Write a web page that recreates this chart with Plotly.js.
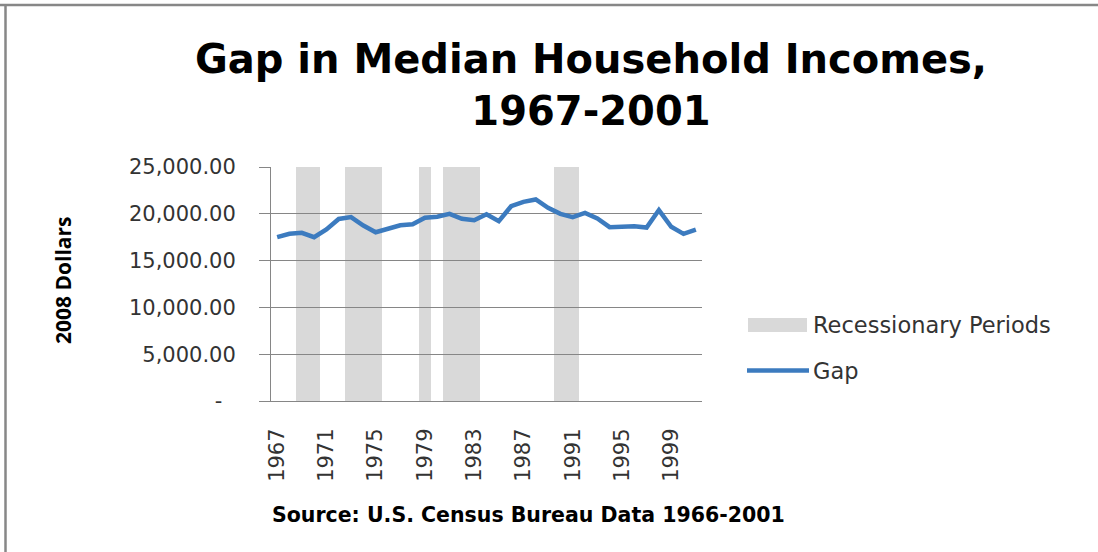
<!DOCTYPE html>
<html>
<head>
<meta charset="utf-8">
<script src="https://cdn.plot.ly/plotly-3.0.1.min.js"></script>
<style>
  html, body { margin: 0; padding: 0; background: #fff; }
  #chart { width: 1098px; height: 552px; }
</style>
</head>
<body>
<div id="chart"></div>
<script>
// ---- data ----
const years = [1967, 1968, 1969, 1970, 1971, 1972, 1973, 1974, 1975, 1976,
               1977, 1978, 1979, 1980, 1981, 1982, 1983, 1984, 1985, 1986,
               1987, 1988, 1989, 1990, 1991, 1992, 1993, 1994, 1995, 1996,
               1997, 1998, 1999, 2000, 2001];
const gap = [17500, 17860, 17970, 17500, 18320, 19450, 19650, 18750, 18030, 18430,
             18780, 18890, 19570, 19680, 20000, 19460, 19320, 19950, 19210, 20810,
             21280, 21530, 20640, 20000, 19640, 20100, 19500, 18570, 18680, 18680,
             18530, 20400, 18610, 17860, 18320];
const recessionYears = [1969, 1970, 1973, 1974, 1975, 1979, 1981, 1982, 1983, 1990, 1991];
const recessionLevel = 25000;
const yTickValues = [0, 5000, 10000, 15000, 20000, 25000];
const yTickLabels = ["-\u00a0\u00a0", "5,000.00", "10,000.00", "15,000.00", "20,000.00", "25,000.00"];
const titleText = "Gap in Median Household Incomes,<br>1967-2001";
const yTitleText = "2008 Dollars";
const sourceText = "Source: U.S. Census Bureau Data 1966-2001";
const legendNames = ["Recessionary Periods", "Gap"];

const recessionValues = years.map(y => recessionYears.includes(y) ? recessionLevel : null);

// ---- geometry helpers (pixel -> paper) ----
const W = 1098, H = 552;
const L = 271, R = 702, T = 167, B = 401;
const px = x => (x - L) / (R - L);
const py = y => (B - y) / (B - T);

const BLUE = "#3c7bbf";
const GRID = "#868686";
const TICKFONT = { family: "DejaVu Sans", size: 21, color: "#333333" };

const traces = [
  {
    type: "bar",
    name: legendNames[0],
    x: years,
    y: recessionValues,
    width: 1,
    marker: { color: GRID, opacity: 0.314, line: { width: 0 } },
    showlegend: false,
    hoverinfo: "skip"
  },
  {
    type: "scatter",
    mode: "lines",
    name: legendNames[1],
    x: years,
    y: gap,
    line: { color: BLUE, width: 4.5 },
    showlegend: false
  }
];

const layout = {
  width: W, height: H,
  margin: { l: L, r: W - R, t: T, b: H - B, pad: 0 },
  paper_bgcolor: "#ffffff",
  plot_bgcolor: "#ffffff",
  bargap: 0,
  showlegend: false,
  title: {
    text: titleText,
    font: { family: "DejaVu Sans", size: 40, weight: 700, color: "#000000" },
    xref: "container", yref: "container",
    x: 591 / W, xanchor: "center",
    y: 1 - 73 / H, yanchor: "top"
  },
  xaxis: {
    range: [1966.5, 2001.5],
    tickmode: "linear", tick0: 1967, dtick: 4,
    tickangle: -90,
    ticks: "",
    ticklabelstandoff: 18,
    tickfont: TICKFONT,
    showgrid: false,
    zeroline: false,
    showline: true, linecolor: GRID, linewidth: 1,
    fixedrange: true
  },
  yaxis: {
    range: [0, 25000],
    tickmode: "array",
    tickvals: yTickValues,
    ticktext: yTickLabels,
    ticks: "outside", ticklen: 11, tickcolor: GRID, tickwidth: 1,
    ticklabelstandoff: 19,
    tickfont: TICKFONT,
    showgrid: true, gridcolor: GRID, gridwidth: 1,
    zeroline: false,
    showline: true, linecolor: GRID, linewidth: 1,
    fixedrange: true
  },
  shapes: [
    // chart frame (top and left edges)
    { type: "line", xref: "paper", yref: "paper", x0: px(0), x1: px(W), y0: py(5), y1: py(5),
      line: { color: "#878787", width: 2.5 } },
    { type: "line", xref: "paper", yref: "paper", x0: px(5.5), x1: px(5.5), y0: py(5), y1: py(H),
      line: { color: "#878787", width: 2.5 } },
    // legend swatches
    { type: "rect", xref: "paper", yref: "paper", x0: px(748), x1: px(807), y0: py(332), y1: py(318),
      fillcolor: "#d9d9d9", line: { width: 0 } },
    { type: "line", xref: "paper", yref: "paper", x0: px(747), x1: px(809), y0: py(370.5), y1: py(370.5),
      line: { color: BLUE, width: 4.5 } }
  ],
  annotations: [
    { text: legendNames[0], xref: "paper", yref: "paper", x: px(811), y: py(325),
      xanchor: "left", yanchor: "middle", showarrow: false,
      font: { family: "DejaVu Sans", size: 22.5, color: "#333333" } },
    { text: legendNames[1], xref: "paper", yref: "paper", x: px(811), y: py(370.5),
      xanchor: "left", yanchor: "middle", showarrow: false,
      font: { family: "DejaVu Sans", size: 22.5, color: "#333333" } },
    { text: yTitleText, xref: "paper", yref: "paper", x: px(63), y: py(280),
      xanchor: "center", yanchor: "middle", textangle: -90, showarrow: false,
      font: { family: "Open Sans", size: 21, weight: 700, color: "#000000" } },
    { text: sourceText, xref: "paper", yref: "paper", x: px(528), y: py(515),
      xanchor: "center", yanchor: "middle", showarrow: false,
      font: { family: "DejaVu Sans", size: 20.5, weight: 700, color: "#000000" } }
  ]
};

Plotly.newPlot("chart", traces, layout, { staticPlot: true, displayModeBar: false });
</script>
</body>
</html>
